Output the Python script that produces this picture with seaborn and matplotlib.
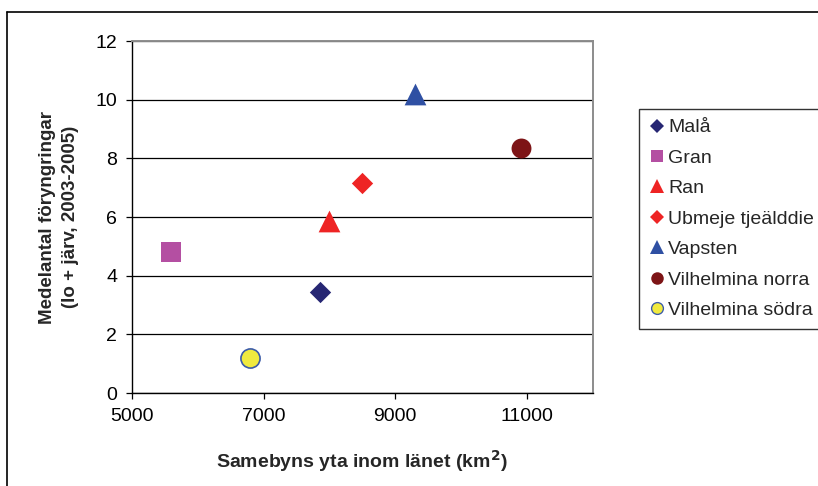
"""Scatter: renewals per sameby vs area within the county."""

import matplotlib
matplotlib.use("Agg")
import matplotlib.pyplot as plt
from matplotlib.lines import Line2D
import seaborn as sns

# data
names = ["Malå", "Gran", "Ran", "Ubmeje tjeälddie", "Vapsten",
         "Vilhelmina norra", "Vilhelmina södra"]
area_km2 = [7850, 5600, 8000, 8500, 9300, 10900, 6800]
renewals = [3.45, 4.8, 5.85, 7.15, 10.2, 8.35, 1.2]

x_ticks = [5000, 7000, 9000, 11000]
y_ticks = [0, 2, 4, 6, 8, 10, 12]

# styling per series
markers = ["D", "s", "^", "D", "^", "o", "o"]
sizes = [118, 205, 245, 118, 245, 205, 190]
colors = ["#262673", "#b44fa2", "#ee2424", "#ee2424", "#2f50a3", "#7d1416", "#f0ea3f"]
edges = ["#262673", "#b44fa2", "#ee2424", "#ee2424", "#2f50a3", "#7d1416", "#3b5ba8"]
edge_w = [0, 0, 0, 0, 0, 0, 1.2]
legend_ms = [7, 9, 10, 7, 10, 9, 8.5]

sns.set_style("ticks")
plt.rcParams["font.family"] = ["Liberation Sans", "DejaVu Sans"]

fig = plt.figure(figsize=(8.18, 4.86), dpi=100)
ax = fig.add_axes([131.7 / 818, 1 - 393 / 486, (593 - 131.7) / 818, (393 - 41) / 486])

for n, xv, yv, m, s, c, e, lw in zip(names, area_km2, renewals, markers, sizes,
                                      colors, edges, edge_w):
    sns.scatterplot(x=[xv], y=[yv], marker=m, s=s, color=c, edgecolor=e,
                    linewidth=lw, ax=ax, zorder=3, legend=False)

ax.set_xlim(5000, 12000)
ax.set_ylim(0, 12)
ax.set_xticks(x_ticks)
ax.set_yticks(y_ticks)
ax.tick_params(axis="both", direction="out", length=4.5, width=0.9,
               colors="black", labelsize=14)
ax.tick_params(axis="x", pad=6)
ax.tick_params(axis="y", pad=6)

ax.set_axisbelow(True)
ax.yaxis.grid(True, color="black", lw=0.9)
for side in ["top", "right"]:
    ax.spines[side].set_color("#8c8c8c")
    ax.spines[side].set_linewidth(1.4)
for side in ["left", "bottom"]:
    ax.spines[side].set_color("black")
    ax.spines[side].set_linewidth(1.0)

ax.set_xlabel("Samebyns yta inom länet (km$\\mathbf{^2}$)", fontsize=14,
              fontweight="bold", labelpad=17)
ax.set_ylabel("Medelantal föryngringar\n(lo + järv, 2003-2005)", fontsize=13.5,
              fontweight="bold", linespacing=1.4, labelpad=12)

handles = [Line2D([], [], ls="none", marker=m, ms=ms, markerfacecolor=c,
                  markeredgecolor=e, markeredgewidth=lw * 0.8)
           for m, ms, c, e, lw in zip(markers, legend_ms, colors, edges, edge_w)]
leg = ax.legend(handles, names, loc="upper left",
                bbox_to_anchor=(639 / 818, 1 - 109 / 486),
                bbox_transform=fig.transFigure, borderaxespad=0,
                fontsize=14, frameon=True, fancybox=False, shadow=False,
                handlelength=0.8, handletextpad=0.2, labelspacing=0.66,
                borderpad=0.5)
leg.get_frame().set_edgecolor("black")
leg.get_frame().set_linewidth(1.0)

# outer chart frame (only left and top visible in the crop)
fig.add_artist(Line2D([7 / 818, 7 / 818], [0, 1 - 12 / 486], color="black", lw=1.2))
fig.add_artist(Line2D([7 / 818, 1], [1 - 12 / 486, 1 - 12 / 486], color="black", lw=1.2))

fig.savefig("out.png", dpi=100)
plt.close(fig)
